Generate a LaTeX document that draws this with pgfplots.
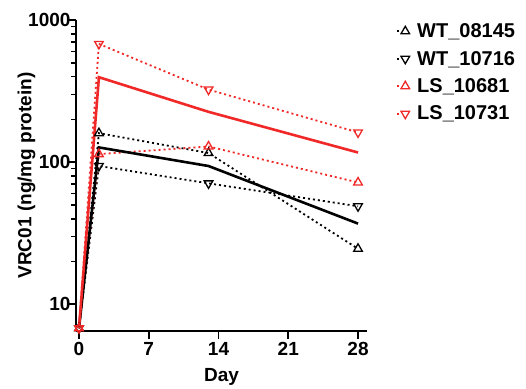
\documentclass[border=0pt]{standalone}
\usepackage{fontspec}
\setmainfont{Liberation Sans}
\usepackage{pgfplots}
\pgfplotsset{compat=1.18}
\definecolor{myred}{RGB}{240,40,40}
\newcommand{\bigbf}{\fontsize{19}{22}\selectfont\bfseries}
\begin{document}
\begin{tikzpicture}
\useasboundingbox (-76pt,-57pt) rectangle (450pt,331pt);
\begin{axis}[
  scale only axis, width=291pt, height=311pt,
  ymode=log, xmin=-0.3, xmax=28.9, ymin=6.5, ymax=1000,
  axis lines=left, axis line style={line width=2.4pt,-},
  xtick={0,7,14,21,28}, ytick={10,100,1000},
  yticklabels={10,100,1000},
  log ticks with fixed point,
  /pgf/number format/assume math mode=true,
  tick align=outside, major tick length=8pt, minor tick length=5pt,
  every tick/.style={line width=1.8pt, black},
  minor tick style={line width=1.5pt},
  tick label style={font=\bigbf},
  yticklabel style={xshift=6pt},
  label style={font=\bigbf},
  xlabel={Day}, ylabel={VRC01 (ng/mg protein)},
  xlabel style={yshift=-6pt},
  ylabel style={yshift=-14pt},
  legend cell align=left,
  legend style={draw=none, fill=none, at={(1.09,1.002)}, anchor=north west,
    font=\fontsize{20}{23}\selectfont\bfseries, row sep=8pt},
  legend image code/.code={
    \draw[#1,mark=none] (0pt,0pt) -- (3pt,0pt);
    \draw[#1,solid] plot coordinates {(8pt,0pt)};
    \path (17pt,0pt);
  },
  clip=false,
]
\addplot[black, line width=1.8pt, dash pattern=on 2pt off 3pt, mark=triangle, mark size=5pt, mark options={solid, line width=1.3pt, fill=none}]
  coordinates {(0,6.8) (2,160) (13,116) (28,24.6)};
\addlegendentry{WT\_08145}
\addplot[black, line width=1.8pt, dash pattern=on 2pt off 3pt, mark=triangle, mark size=5pt, mark options={solid, line width=1.3pt, rotate=180, fill=none}]
  coordinates {(0,6.8) (2,94) (13,71) (28,49)};
\addlegendentry{WT\_10716}
\addplot[myred, line width=1.8pt, dash pattern=on 2pt off 3pt, mark=triangle, mark size=5pt, mark options={solid, line width=1.3pt, fill=none}]
  coordinates {(0,6.8) (2,114) (13,129) (28,72)};
\addlegendentry{LS\_10681}
\addplot[myred, line width=1.8pt, dash pattern=on 2pt off 3pt, mark=triangle, mark size=5pt, mark options={solid, line width=1.3pt, rotate=180, fill=none}]
  coordinates {(0,6.8) (2,679) (13,324) (28,162)};
\addlegendentry{LS\_10731}
\addplot[black, line width=2.6pt, mark=none, forget plot]
  coordinates {(0,6.8) (2,127) (13,94) (28,37)};
\addplot[myred, line width=2.6pt, mark=none, forget plot]
  coordinates {(0,6.8) (2,396) (13,226) (28,117)};
\end{axis}
\end{tikzpicture}
\end{document}
